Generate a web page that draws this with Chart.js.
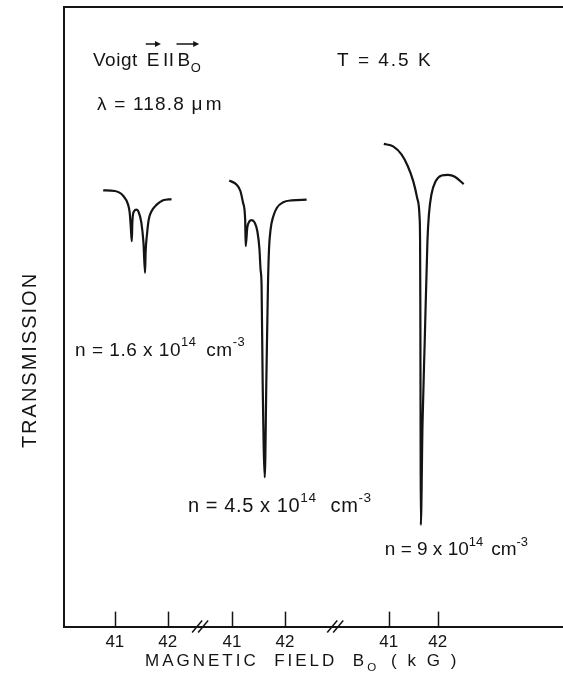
<!DOCTYPE html>
<html>
<head>
<meta charset="utf-8">
<script src="https://cdn.jsdelivr.net/npm/chart.js@4.4.1/dist/chart.umd.min.js"></script>
<style>
  html, body { margin: 0; padding: 0; background: #fff; }
  #wrap { width: 563px; height: 692px; }
</style>
</head>
<body>
<div id="wrap"><canvas id="cr_chart"></canvas></div>
<script>
// magnetic field (kG) vs transmission (arb. units), one pair per electron density
const field1 = [40.78, 41.00, 41.16, 41.25, 41.28, 41.30, 41.32, 41.33, 41.36, 41.41, 41.45, 41.50, 41.54, 41.57, 41.58, 41.61, 41.64, 41.69, 41.79, 41.91, 42.07];
const trans1 = [70.4, 70.3, 69.5, 68.1, 66.8, 64.6, 62.2, 65.2, 67.0, 67.3, 66.9, 65.2, 62.0, 57.1, 60.3, 63.6, 65.7, 67.0, 68.1, 68.8, 69.0];

const field2 = [40.95, 41.09, 41.16, 41.21, 41.25, 41.26, 41.29, 41.33, 41.37, 41.43, 41.48, 41.52, 41.54, 41.56, 41.58, 41.62, 41.65, 41.68, 41.70, 41.73, 41.78, 41.85, 41.97, 42.13, 42.41];
const trans2 = [72.0, 71.3, 70.3, 68.4, 65.7, 61.4, 64.4, 65.4, 65.6, 65.2, 63.8, 60.9, 57.7, 55.0, 39.7, 24.1, 39.7, 55.0, 60.9, 64.1, 66.2, 67.6, 68.5, 68.8, 68.9];

const field3 = [40.90, 41.09, 41.26, 41.39, 41.50, 41.58, 41.63, 41.64, 41.645, 41.65, 41.655, 41.69, 41.735, 41.79, 41.82, 41.87, 41.96, 42.08, 42.21, 42.35, 42.53];
const trans3 = [77.9, 77.5, 76.2, 74.3, 71.9, 69.2, 66.0, 62.2, 52.6, 33.3, 16.4, 32.8, 46.1, 62.2, 66.5, 69.7, 71.9, 72.8, 72.9, 72.6, 71.4];

const densities = ['1.6', '4.5', '9'];   // units of 10^14 cm^-3
const tickFields = [41, 42];

// broken field axis: where 41 kG sits on the shared axis and how much each piece is stretched
const segments = [
  { at: 0.96, scale: 1 },
  { at: 3.17, scale: 1 },
  { at: 6.13, scale: 0.925 }
];
const breaksAt = [2.57, 5.12];

function toAxis(seg, b) {
  return segments[seg].at + segments[seg].scale * (b - 41);
}

const series = [[field1, trans1], [field2, trans2], [field3, trans3]];
const datasets = series.map(([f, t], i) => ({
  label: 'n = ' + densities[i],
  data: f.map((b, j) => ({ x: toAxis(i, b), y: t[j] })),
  borderColor: '#141414',
  borderWidth: 2.2,
  pointRadius: 0,
  cubicInterpolationMode: 'monotone',
  fill: false
}));

const tickList = [];
segments.forEach((s, i) => tickFields.forEach(b => tickList.push({ value: toAxis(i, b), label: String(b) })));

const FONT = '"Liberation Sans", Arial, sans-serif';
const INK = '#141414';

// draw a run of text pieces; pieces with sup/sub are smaller and shifted
function drawRuns(ctx, x, y, runs, size, spacing) {
  ctx.save();
  ctx.fillStyle = INK;
  ctx.textBaseline = 'alphabetic';
  ctx.textAlign = 'left';
  ctx.letterSpacing = spacing + 'px';
  runs.forEach(r => {
    const s = r.sup || r.sub ? size * 0.68 : size;
    const dy = r.sup ? -size * 0.5 : r.sub ? size * 0.3 : 0;
    ctx.font = s + 'px ' + FONT;
    if (r.gap) x += r.gap;
    ctx.fillText(r.t, x, y + dy);
    r.left = x;
    x += ctx.measureText(r.t).width;
    r.right = x;
  });
  ctx.restore();
  return runs;
}

function vecArrow(ctx, x0, x1, y) {
  ctx.save();
  ctx.strokeStyle = INK;
  ctx.fillStyle = INK;
  ctx.lineWidth = 1.5;
  ctx.beginPath();
  ctx.moveTo(x0, y);
  ctx.lineTo(x1 - 4, y);
  ctx.stroke();
  ctx.beginPath();
  ctx.moveTo(x1, y);
  ctx.lineTo(x1 - 6, y - 3);
  ctx.lineTo(x1 - 6, y + 3);
  ctx.closePath();
  ctx.fill();
  ctx.restore();
}

// density labels, placed in (piece, field, transmission) terms
const labelSpots = [
  { seg: 0, b: 40.25, t: 43.7, size: 19, spacing: 0.5, gap: 10 },
  { seg: 1, b: 40.17, t: 18.5, size: 20, spacing: 0.6, gap: 14 },
  { seg: 2, b: 40.92, t: 11.5, size: 19, spacing: 0, gap: 8 }
];

const figureMarks = {
  id: 'figureMarks',
  afterDraw(chart) {
    const { ctx, chartArea: a, scales: { x, y } } = chart;
    ctx.save();
    ctx.strokeStyle = INK;
    ctx.lineWidth = 1.5;

    // field ticks point up into the plot
    tickList.forEach(t => {
      const px = Math.round(x.getPixelForValue(t.value)) + 0.5;
      ctx.beginPath();
      ctx.moveTo(px, a.bottom);
      ctx.lineTo(px, a.bottom - 15);
      ctx.stroke();
    });

    // axis breaks
    breaksAt.forEach(v => {
      const px = x.getPixelForValue(v);
      [-3, 3].forEach(dx => {
        ctx.beginPath();
        ctx.moveTo(px + dx - 5, a.bottom + 6);
        ctx.lineTo(px + dx + 5, a.bottom - 6);
        ctx.stroke();
      });
    });
    ctx.restore();

    // header notes
    const head = drawRuns(ctx, 93, 66, [
      { t: 'Voigt' },
      { t: 'E', gap: 9 },
      { t: 'II', gap: 3 },
      { t: 'B', gap: 3 },
      { t: 'O', sub: true }
    ], 19, 0.5);
    vecArrow(ctx, head[1].left - 1, head[1].right + 1, 44);
    vecArrow(ctx, head[3].left - 1, head[4].right - 2, 44);
    drawRuns(ctx, 337, 66, [{ t: 'T = 4.5 K' }], 19, 2);
    drawRuns(ctx, 97, 110, [{ t: 'λ = 118.8 ' }, { t: 'μ' }, { t: 'm', gap: 2 }], 19, 1.2);

    labelSpots.forEach((p, i) => {
      const px = x.getPixelForValue(toAxis(p.seg, p.b));
      const py = y.getPixelForValue(p.t);
      drawRuns(ctx, px, py, [
        { t: 'n = ' + densities[i] + ' x 10' },
        { t: '14', sup: true },
        { t: 'cm', gap: p.gap },
        { t: '-3', sup: true }
      ], p.size, p.spacing);
    });

    // axis titles
    ctx.save();
    ctx.translate(36, 360);
    ctx.rotate(-Math.PI / 2);
    ctx.fillStyle = INK;
    ctx.font = '20px ' + FONT;
    ctx.letterSpacing = '2px';
    ctx.textAlign = 'center';
    ctx.textBaseline = 'alphabetic';
    ctx.fillText('TRANSMISSION', 0, 0);
    ctx.restore();

    drawRuns(ctx, 145, 666, [
      { t: 'MAGNETIC  FIELD  B' },
      { t: 'O', sub: true },
      { t: '( k G )', gap: 12 }
    ], 17, 3);
  }
};

new Chart(document.getElementById('cr_chart').getContext('2d'), {
  type: 'line',
  data: { datasets },
  options: {
    responsive: true,
    maintainAspectRatio: false,
    animation: false,
    layout: { padding: { left: 64, right: 0, top: 7, bottom: 33 } },
    plugins: {
      legend: { display: false },
      tooltip: { enabled: false }
    },
    scales: {
      x: {
        type: 'linear',
        min: 0,
        max: 9.42,
        afterBuildTicks: axis => { axis.ticks = tickList.map(t => ({ value: t.value })); },
        ticks: {
          callback: (v, i) => tickList[i].label,
          autoSkip: false,
          maxRotation: 0,
          padding: 6,
          color: INK,
          font: { family: FONT, size: 17 }
        },
        grid: { display: false, drawTicks: false },
        border: { color: INK, width: 2 }
      },
      xTop: {
        type: 'linear',
        position: 'top',
        min: 0,
        max: 9.42,
        ticks: { display: false },
        grid: { display: false, drawTicks: false },
        border: { color: INK, width: 2 }
      },
      y: {
        min: 0,
        max: 100,
        ticks: { display: false },
        grid: { display: false, drawTicks: false },
        border: { color: INK, width: 2 }
      }
    }
  },
  plugins: [figureMarks]
});
</script>
</body>
</html>
